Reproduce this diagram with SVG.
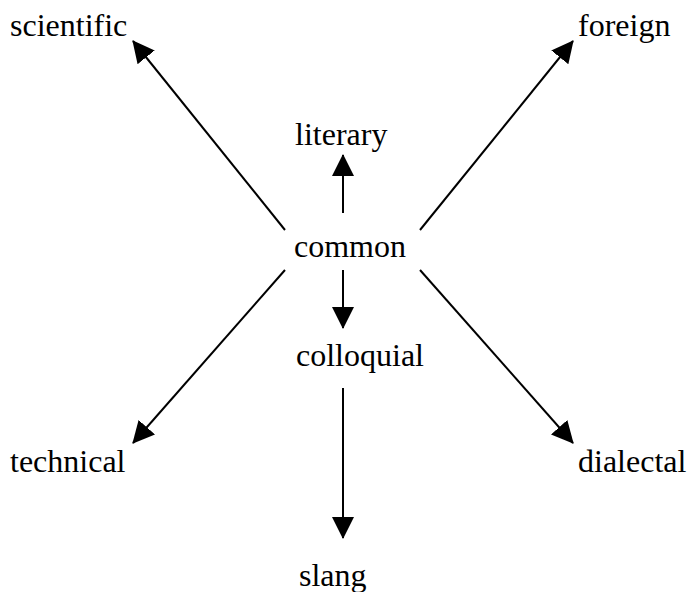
<svg xmlns="http://www.w3.org/2000/svg" width="687" height="592" viewBox="0 0 687 592">
<style>
text{font-family:"Liberation Serif","Times New Roman",serif;font-size:32px;fill:#000}
line{stroke:#000;stroke-width:2}
</style>
<defs>
<marker id="ah" markerUnits="userSpaceOnUse" markerWidth="22" markerHeight="22" refX="21" refY="11" orient="auto" viewBox="0 0 22 22">
<path d="M0,0 L22,11 L0,22 z" fill="#000"/>
</marker>
</defs>
<rect width="687" height="592" fill="#fff"/>
<g id="connectors">
<line x1="285" y1="230" x2="133" y2="41" marker-end="url(#ah)"/>
<line x1="420" y1="230" x2="573" y2="41" marker-end="url(#ah)"/>
<line x1="343" y1="213" x2="343" y2="155" marker-end="url(#ah)"/>
<line x1="343" y1="270" x2="343" y2="328" marker-end="url(#ah)"/>
<line x1="285" y1="270" x2="133" y2="443" marker-end="url(#ah)"/>
<line x1="420" y1="270" x2="573" y2="443" marker-end="url(#ah)"/>
<line x1="343" y1="388" x2="343" y2="538" marker-end="url(#ah)"/>
</g>
<g id="scientific"><text x="10" y="36">scientific</text></g>
<g id="foreign"><text x="578" y="36">foreign</text></g>
<g id="literary"><text x="295" y="145">literary</text></g>
<g id="common"><text x="294" y="257">common</text></g>
<g id="colloquial"><text x="296" y="366">colloquial</text></g>
<g id="technical"><text x="10" y="472">technical</text></g>
<g id="dialectal"><text x="578" y="472">dialectal</text></g>
<g id="slang"><text x="299" y="586">slang</text></g>
</svg>
